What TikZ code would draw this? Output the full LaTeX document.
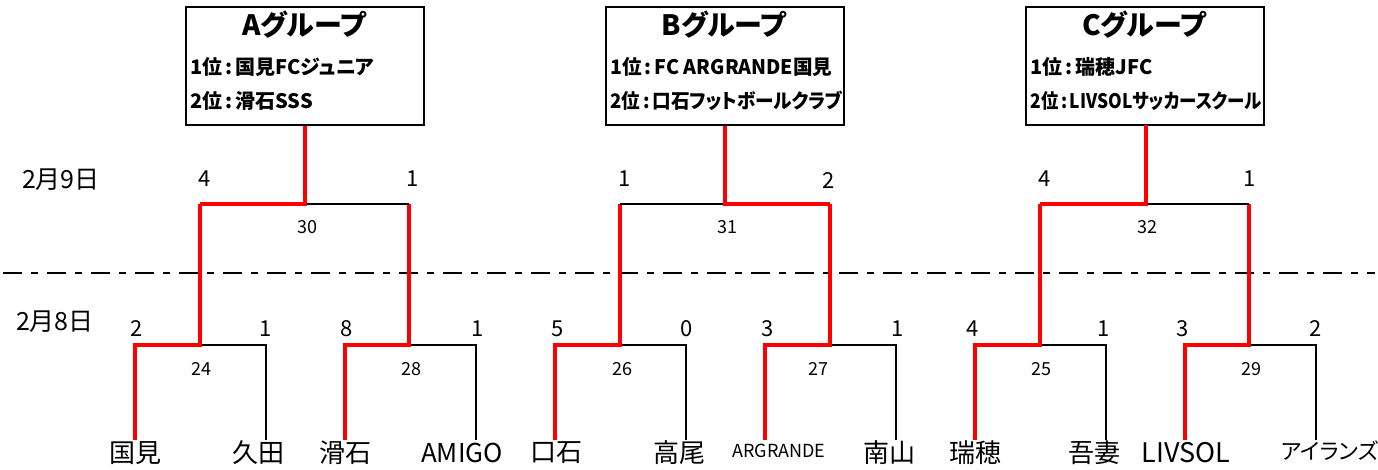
\documentclass[tikz,border=0pt]{standalone}
\usepackage{fontspec}
\setmainfont{Noto Sans CJK JP}[RawFeature=+palt]
\definecolor{winred}{RGB}{255,0,0}
\newcommand{\gcolon}{\hspace{1.5pt}:\hspace{1.5pt}}
\begin{document}
\begin{tikzpicture}[x=0.5pt,y=-0.5pt,
  win/.style={draw=winred,line width=1.9pt},
  lose/.style={draw=black,line width=1.1pt},
  grp/.style={draw,line width=1.2pt,minimum width=119pt,minimum height=59pt,inner sep=0pt},
  gtitle/.style={font=\bfseries\fontsize{14}{16}\selectfont},
  gline/.style={font=\bfseries\fontsize{10}{12}\selectfont,anchor=west,inner sep=0pt},
  score/.style={font=\fontsize{11}{13}\selectfont},
  gno/.style={font=\fontsize{9}{11}\selectfont},
  team/.style={font=\fontsize{13}{15}\selectfont},
  date/.style={font=\fontsize{12.5}{14}\selectfont}]
\useasboundingbox (0,0) rectangle (1378,470);

% group boxes
\node[grp] (boxA) at (305,66) {};
\node[grp] (boxB) at (725,66) {};
\node[grp] (boxC) at (1145,66) {};
\node[gtitle] (tA) at (304,25) {Aグループ};
\node[gtitle] (tB) at (724,25) {Bグループ};
\node[gtitle] (tC) at (1144,25) {Cグループ};
\node[gline] (a1) at (190,67) {1位\gcolon 国見FCジュニア};
\node[gline] (a2) at (190,101) {2位\gcolon 滑石SSS};
\node[gline] (b1) at (610,67) {\scalebox{0.98}[1]{1位\gcolon FC ARGRANDE国見}};
\node[gline] (b2) at (610,101) {\scalebox{0.93}[1]{2位\gcolon 口石フットボールクラブ}};
\node[gline] (c1) at (1030,67) {1位\gcolon 瑞穂JFC};
\node[gline] (c2) at (1030,101) {\scalebox{0.87}[1]{2位\gcolon LIVSOLサッカースクール}};

% dates
\node[date] (d9) at (61,180) {2月9日};
\node[date] (d8) at (55,322) {2月8日};

% day separator
\draw[line width=1.1pt,dash pattern=on 9.5pt off 4.5pt on 3.5pt off 4.5pt] (3,273) -- (1375,273);

% round 1
\foreach \n/\l/\m/\r in {24/135/200/266,28/345/409/476,26/555/620/686,27/765/830/896,25/975/1040/1106,29/1185/1249/1316}{
  \coordinate (l\n) at (\l,440);
  \coordinate (r\n) at (\r,440);
  \coordinate (m\n) at (\m,345);
  \draw[lose] (m\n) -- (\r,345) -- (r\n);
  \draw[win] (l\n) |- (m\n) -- (\m,204);
}
\node[gno] (g24) at (201,369) {24};
\node[gno] (g28) at (411,369) {28};
\node[gno] (g26) at (622,369) {26};
\node[gno] (g27) at (818,369) {27};
\node[gno] (g25) at (1041,369) {25};
\node[gno] (g29) at (1251,369) {29};

% round 2
\coordinate (mA) at (305,204);
\coordinate (mB) at (725,204);
\coordinate (mC) at (1146,204);
\draw[lose] (mA) -- (409,204);
\draw[win] (200,204) -- (mA) -- (boxA.south);
\draw[lose] (mB) -- (620,204);
\draw[win] (830,204) -- (mB) -- (boxB.south);
\draw[lose] (mC) -- (1249,204);
\draw[win] (1040,204) -- (mC) -- (1146,125);
\node[gno] (g30) at (307,227) {30};
\node[gno] (g31) at (727,227) {31};
\node[gno] (g32) at (1147,227) {32};

% round 2 scores
\node[score] at (205,179) {4};
\node[score] at (413,179) {1};
\node[score] at (625,179) {1};
\node[score] at (829,181) {2};
\node[score] at (1045,179) {4};
\node[score] at (1250,179) {1};

% round 1 scores
\foreach \x/\s in {137/2,266/1,347/8,478/1,558/5,687/0,768/3,898/1,973/4,1104/1,1183/3,1316/2}{
  \node[score] at (\x,329) {\s};
}

% teams
\node[team] (t1) at (135,453) {国見};
\node[team] (t2) at (258,453) {久田};
\node[team] (t3) at (345,453) {滑石};
\node[team] (t4) at (462,453) {AMIGO};
\node[team] (t5) at (556,453) {口石};
\node[team] (t6) at (679,453) {高尾};
\node[team,font=\fontsize{9}{11}\selectfont] (t7) at (779,451) {ARGRANDE};
\node[team] (t8) at (889,453) {南山};
\node[team] (t9) at (975,453) {瑞穂};
\node[team] (t10) at (1094,453) {吾妻};
\node[team,font=\fontsize{13.5}{15}\selectfont] (t11) at (1186,453) {LIVSOL};
\node[team,font=\fontsize{11}{13}\selectfont] (t12) at (1330,451) {アイランズ};
\end{tikzpicture}
\end{document}
